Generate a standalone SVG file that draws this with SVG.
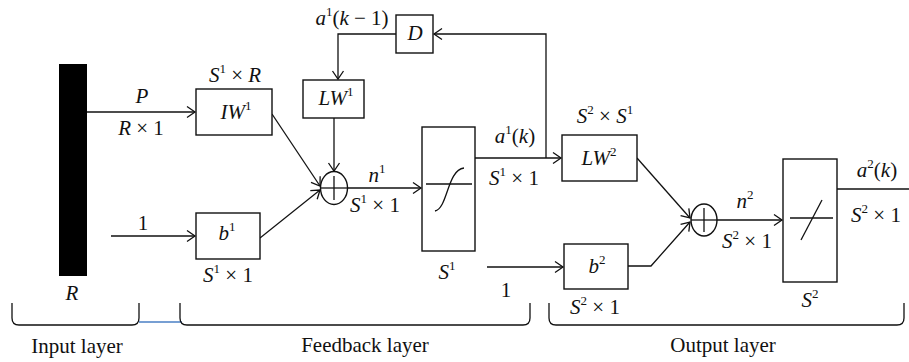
<svg xmlns="http://www.w3.org/2000/svg" width="909" height="362" viewBox="0 0 909 362">
<style>
.ln{stroke:#111;stroke-width:1.3;fill:none}
.bx{stroke:#111;stroke-width:1.4;fill:#fff}
text{font-family:"Liberation Serif","DejaVu Serif",serif;font-size:21px;fill:#111;text-anchor:middle}
.i{font-style:italic}
.sup{font-size:13px}
.lbl{font-size:21px}
</style>
<defs>
<marker id="ah" viewBox="-10 -7 12 14" refX="0" refY="0" markerWidth="12" markerHeight="14" markerUnits="userSpaceOnUse" orient="auto">
<path d="M-8,-5.5 L0,0 L-8,5.5" fill="none" stroke="#111" stroke-width="1.3"/>
</marker>
</defs>
<rect width="909" height="362" fill="#fff"/>

<g id="connectors">
<line class="ln" x1="87" y1="112" x2="195" y2="112" marker-end="url(#ah)"/>
<line class="ln" x1="111" y1="236" x2="195" y2="236" marker-end="url(#ah)"/>
<line class="ln" x1="272" y1="114" x2="320" y2="186" marker-end="url(#ah)"/>
<line class="ln" x1="260" y1="238" x2="320" y2="190" marker-end="url(#ah)"/>
<line class="ln" x1="334" y1="118" x2="334" y2="171" marker-end="url(#ah)"/>
<polyline class="ln" points="396,34 338,34 338,79" marker-end="url(#ah)"/>
<line class="ln" x1="348" y1="188" x2="421" y2="188" marker-end="url(#ah)"/>
<line class="ln" x1="475" y1="158" x2="561" y2="158" marker-end="url(#ah)"/>
<polyline class="ln" points="546,158 546,34 434,34" marker-end="url(#ah)"/>
<line class="ln" x1="487" y1="267" x2="563" y2="267" marker-end="url(#ah)"/>
<line class="ln" x1="637" y1="158" x2="690" y2="218" marker-end="url(#ah)"/>
<polyline class="ln" points="628,266 651,266 690,222" marker-end="url(#ah)"/>
<line class="ln" x1="717" y1="220" x2="782" y2="220" marker-end="url(#ah)"/>
<line class="ln" x1="837" y1="189" x2="909" y2="189"/>
</g>

<g id="input">
<rect x="59" y="64" width="28" height="212" fill="#000"/>
<text class="i" x="142" y="103">P</text>
<text x="141" y="135"><tspan class="i">R</tspan> × 1</text>
<text x="143" y="230">1</text>
<text class="i" x="72" y="300">R</text>
</g>

<g id="IW1">
<rect class="bx" x="196" y="89" width="76" height="46"/>
<text x="236" y="119"><tspan class="i">IW</tspan><tspan class="sup" dy="-9">1</tspan></text>
<text x="235" y="82"><tspan class="i">S</tspan><tspan class="sup" dy="-9">1</tspan><tspan dy="9"> × </tspan><tspan class="i">R</tspan></text>
</g>

<g id="b1">
<rect class="bx" x="196" y="213" width="64" height="46"/>
<text x="227" y="240"><tspan class="i">b</tspan><tspan class="sup" dy="-9">1</tspan></text>
<text x="228" y="282"><tspan class="i">S</tspan><tspan class="sup" dy="-9">1</tspan><tspan dy="9"> × 1</tspan></text>
</g>

<g id="LW1">
<rect class="bx" x="303" y="80" width="61" height="38"/>
<text x="336" y="105"><tspan class="i">LW</tspan><tspan class="sup" dy="-9">1</tspan></text>
</g>

<g id="D">
<rect class="bx" x="396" y="15" width="37" height="38"/>
<text class="i" x="415" y="40">D</text>
<text x="352" y="25"><tspan class="i">a</tspan><tspan class="sup" dy="-9">1</tspan><tspan dy="9">(</tspan><tspan class="i">k</tspan> − 1)</text>
</g>

<g id="sum1">
<ellipse class="bx" cx="334" cy="188" rx="13.5" ry="16.5"/>
<line class="ln" x1="320.5" y1="188" x2="347.5" y2="188"/>
<line class="ln" x1="334" y1="176" x2="334" y2="200"/>
<text x="377" y="182"><tspan class="i">n</tspan><tspan class="sup" dy="-9">1</tspan></text>
<text x="375" y="212"><tspan class="i">S</tspan><tspan class="sup" dy="-9">1</tspan><tspan dy="9"> × 1</tspan></text>
</g>

<g id="tf1">
<rect class="bx" x="422" y="127" width="53" height="124"/>
<line class="ln" x1="426" y1="184" x2="472" y2="184"/>
<path class="ln" d="M435,211 C448,208 447,170 464,168"/>
<text x="447" y="279"><tspan class="i">S</tspan><tspan class="sup" dy="-9">1</tspan></text>
<text x="515" y="143"><tspan class="i">a</tspan><tspan class="sup" dy="-9">1</tspan><tspan dy="9">(</tspan><tspan class="i">k</tspan>)</text>
<text x="514" y="185"><tspan class="i">S</tspan><tspan class="sup" dy="-9">1</tspan><tspan dy="9"> × 1</tspan></text>
<text x="506" y="297">1</text>
</g>

<g id="LW2">
<rect class="bx" x="562" y="135" width="75" height="46"/>
<text x="599" y="165"><tspan class="i">LW</tspan><tspan class="sup" dy="-9">2</tspan></text>
<text x="605" y="123"><tspan class="i">S</tspan><tspan class="sup" dy="-9">2</tspan><tspan dy="9"> × </tspan><tspan class="i">S</tspan><tspan class="sup" dy="-9">1</tspan></text>
</g>

<g id="b2">
<rect class="bx" x="564" y="244" width="64" height="45"/>
<text x="597" y="273"><tspan class="i">b</tspan><tspan class="sup" dy="-9">2</tspan></text>
<text x="595" y="314"><tspan class="i">S</tspan><tspan class="sup" dy="-9">2</tspan><tspan dy="9"> × 1</tspan></text>
</g>

<g id="sum2">
<ellipse class="bx" cx="704" cy="220" rx="13" ry="16"/>
<line class="ln" x1="691" y1="220" x2="717" y2="220"/>
<line class="ln" x1="704" y1="208" x2="704" y2="232"/>
<text x="745" y="208"><tspan class="i">n</tspan><tspan class="sup" dy="-9">2</tspan></text>
<text x="747" y="248"><tspan class="i">S</tspan><tspan class="sup" dy="-9">2</tspan><tspan dy="9"> × 1</tspan></text>
</g>

<g id="tf2">
<rect class="bx" x="783" y="159" width="54" height="123"/>
<line class="ln" x1="790" y1="218" x2="833" y2="218"/>
<line class="ln" x1="801" y1="240" x2="822" y2="200"/>
<text x="810" y="307"><tspan class="i">S</tspan><tspan class="sup" dy="-9">2</tspan></text>
<text x="877" y="177"><tspan class="i">a</tspan><tspan class="sup" dy="-9">2</tspan><tspan dy="9">(</tspan><tspan class="i">k</tspan>)</text>
<text x="876" y="222"><tspan class="i">S</tspan><tspan class="sup" dy="-9">2</tspan><tspan dy="9"> × 1</tspan></text>
</g>

<g id="layers">
<path class="ln" d="M12,303 L12,318 Q12,325 19,325 L132,325 Q139,325 139,318 L139,303"/>
<line x1="139" y1="322" x2="182" y2="322" stroke="#4a7fc4" stroke-width="1.3"/>
<path class="ln" d="M180,303 L180,318 Q180,325 187,325 L523,325 Q530,325 530,318 L530,303"/>
<path class="ln" d="M549,303 L549,318 Q549,325 556,325 L897,325 Q904,325 904,318 L904,303"/>
<text class="lbl" x="77" y="353">Input layer</text>
<text class="lbl" x="365" y="352">Feedback layer</text>
<text class="lbl" x="723" y="352">Output layer</text>
</g>
</svg>
